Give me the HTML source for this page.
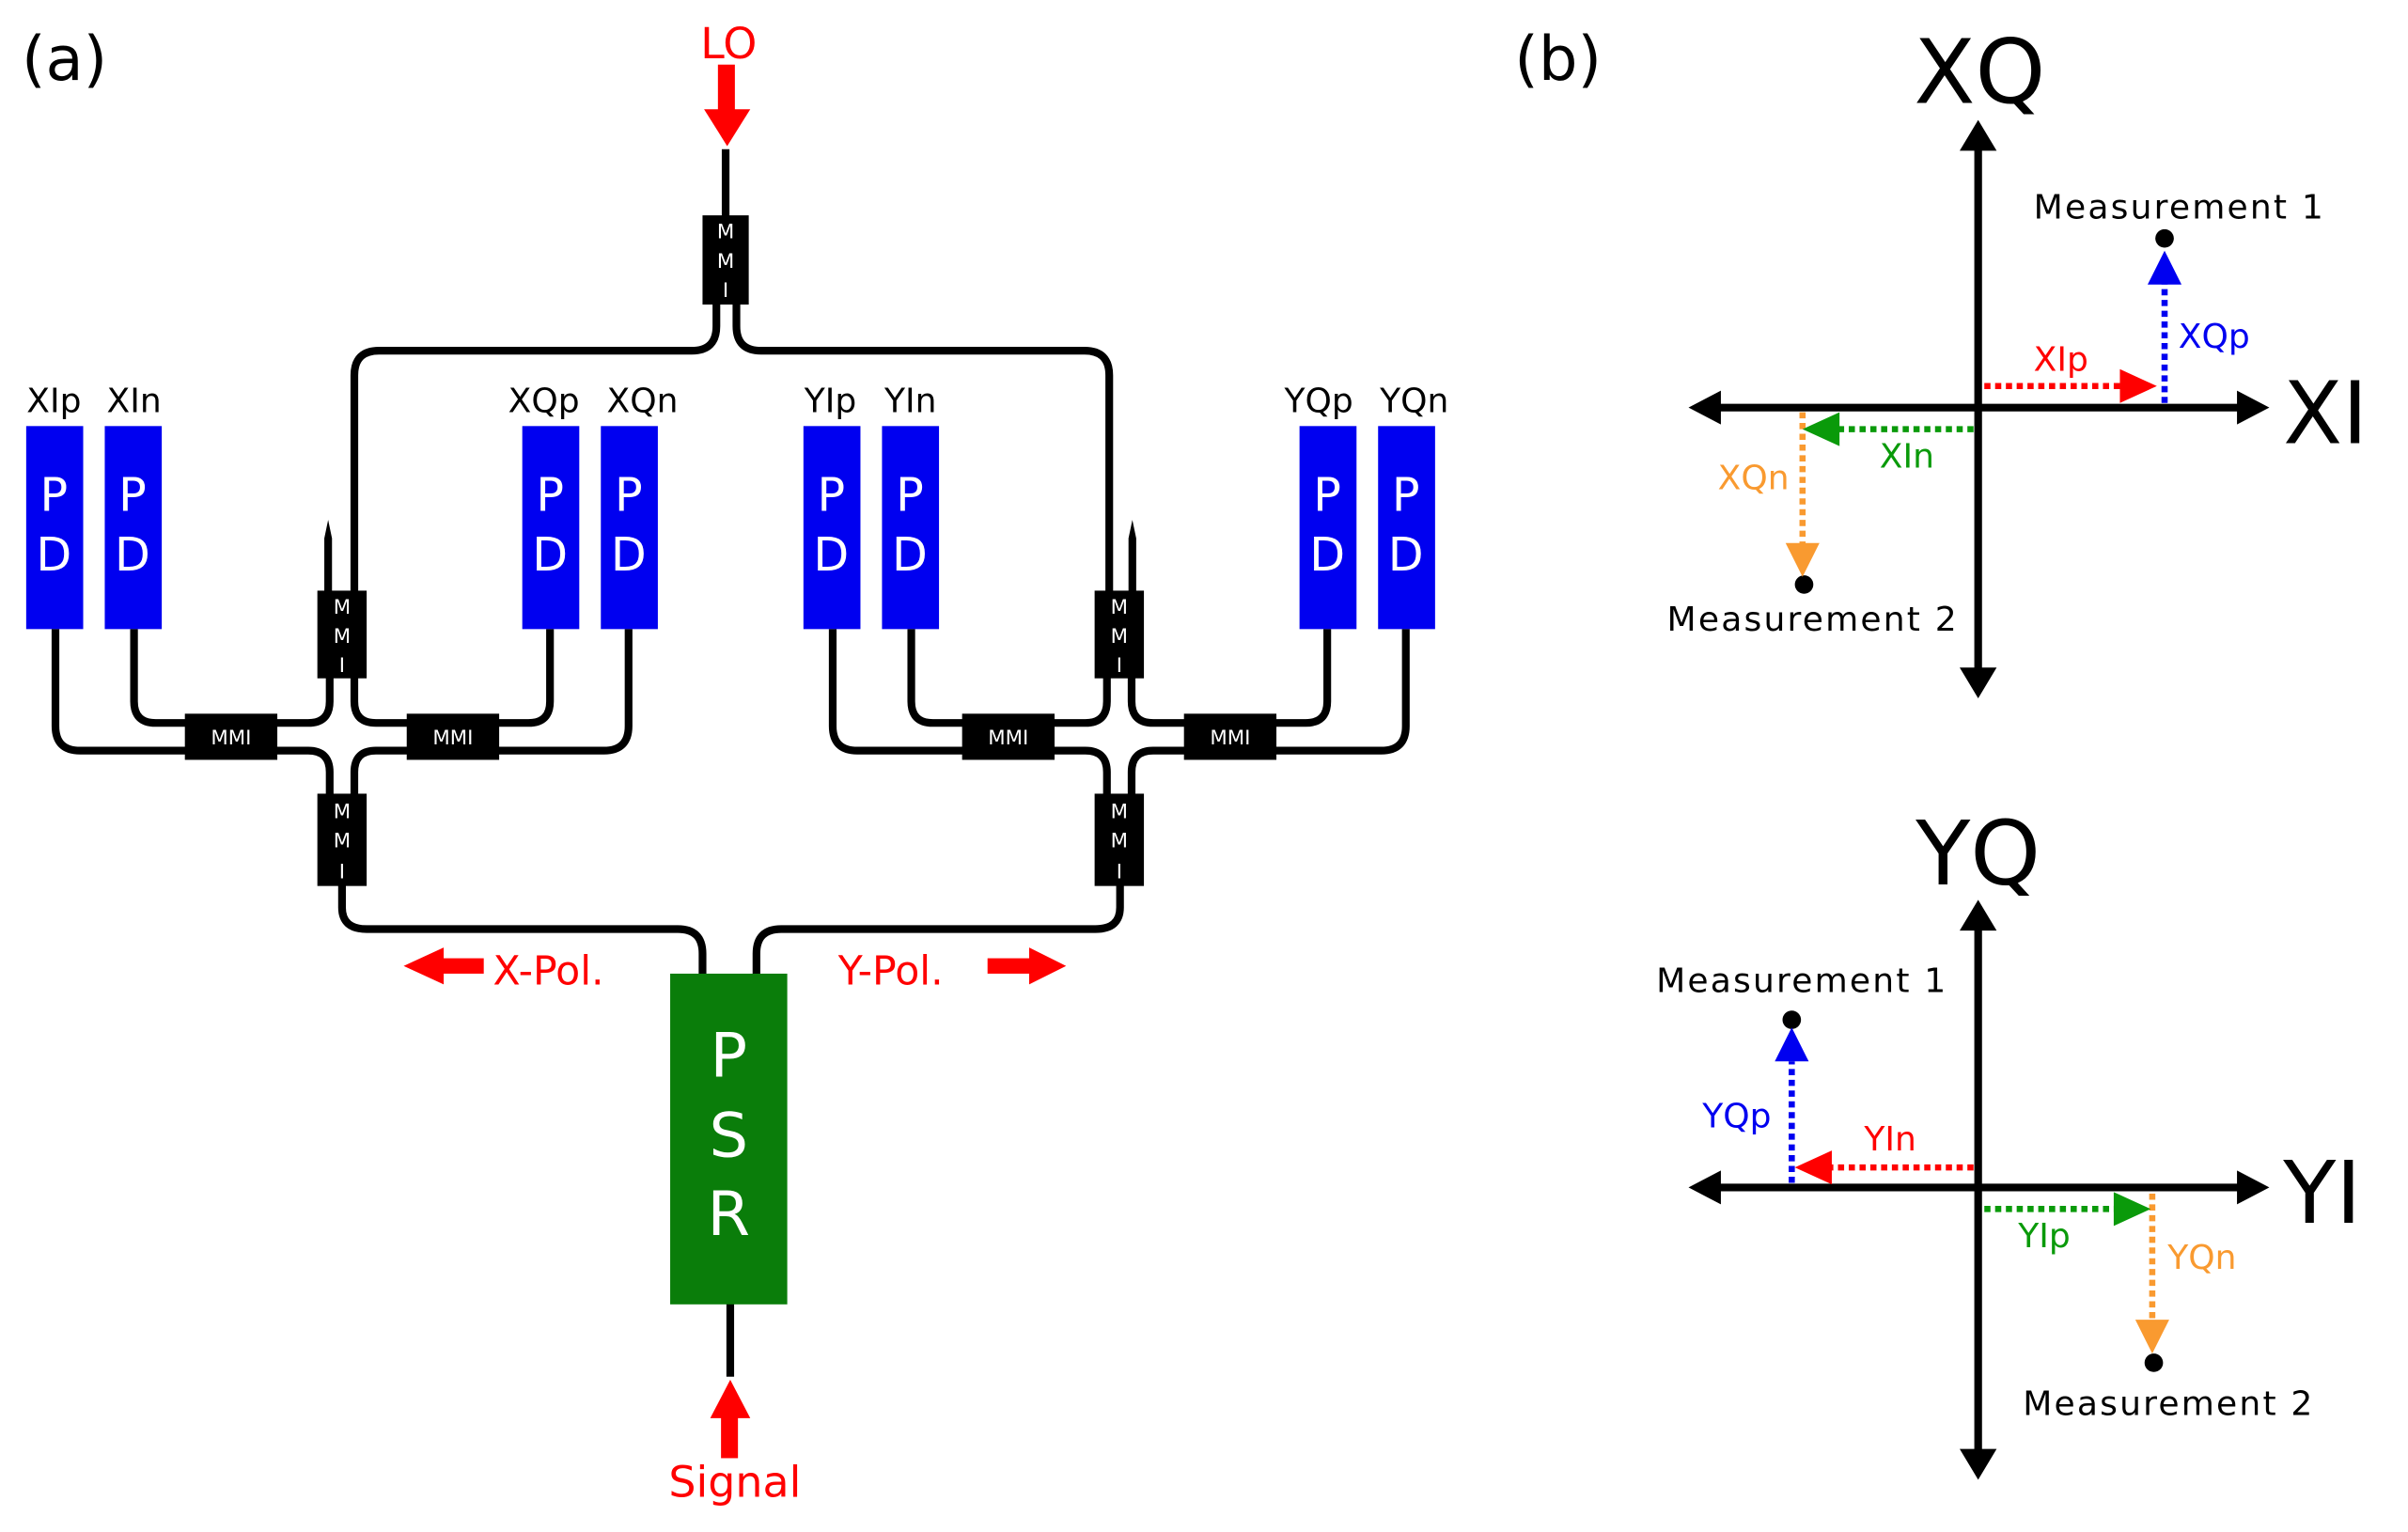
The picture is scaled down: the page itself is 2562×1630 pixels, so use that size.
<!DOCTYPE html>
<html><head><meta charset="utf-8"><style>
html,body{margin:0;padding:0;background:#fff;}
svg{display:block;}
text{font-family:"DejaVu Sans","Liberation Sans",sans-serif;}
</style></head><body>
<svg width="2562" height="1630" viewBox="0 0 1563 996" preserveAspectRatio="none" xmlns="http://www.w3.org/2000/svg">
<defs>
<g id="half">
  <rect x="17" y="277" width="37" height="132" fill="#0000f0"/>
  <rect x="68" y="277" width="37" height="132" fill="#0000f0"/>
  <rect x="339" y="277" width="37" height="132" fill="#0000f0"/>
  <rect x="390" y="277" width="37" height="132" fill="#0000f0"/>
  <g fill="#fff" font-size="30" text-anchor="middle">
    <text x="35" y="332">P</text><text x="35" y="371">D</text>
    <text x="86" y="332">P</text><text x="86" y="371">D</text>
    <text x="357" y="332">P</text><text x="357" y="371">D</text>
    <text x="408" y="332">P</text><text x="408" y="371">D</text>
  </g>
  <g fill="none" stroke="#000" stroke-width="5">
    <path d="M36 409 V472 Q36 488 52 488 H125"/>
    <path d="M87 409 V456 Q87 470 101 470 H125"/>
    <path d="M175 470 H200 Q214 470 214 456 V440"/>
    <path d="M175 488 H200 Q214 488 214 502 V518"/>
    <path d="M270 470 H244 Q230 470 230 456 V440"/>
    <path d="M270 488 H244 Q230 488 230 502 V518"/>
    <path d="M320 470 H343 Q357 470 357 456 V409"/>
    <path d="M320 488 H392 Q408 488 408 472 V409"/>
  </g>
  <rect x="206" y="384" width="32" height="57" fill="#000"/>
  <rect x="206" y="516" width="32" height="60" fill="#000"/>
  <rect x="120" y="464" width="60" height="30" fill="#000"/>
  <rect x="264" y="464" width="60" height="30" fill="#000"/>
  <g fill="#fff" font-size="13" text-anchor="middle">
    <text x="222" y="399">M</text><text x="222" y="418">M</text><text x="222" y="437">I</text>
    <text x="222" y="532">M</text><text x="222" y="551">M</text><text x="222" y="571">I</text>
    <text x="150" y="484">MMI</text><text x="294" y="484">MMI</text>
  </g>
</g>
</defs>

<text x="14" y="52" font-size="40" fill="#000">(a)</text>
<text x="983" y="52" font-size="40" fill="#000">(b)</text>

<text x="473" y="38" font-size="28" fill="#f00" text-anchor="middle">LO</text>
<rect x="466" y="42" width="11" height="31" fill="#f00"/>
<path d="M457 71 H487 L472 95 Z" fill="#f00"/>
<line x1="471" y1="97" x2="471" y2="142" stroke="#000" stroke-width="5"/>

<g fill="none" stroke="#000" stroke-width="5">
  <path d="M465 196 V212 Q465 228 449 228 H246 Q230 228 230 244 V386"/>
  <path d="M478 196 V212 Q478 228 494 228 H704 Q720 228 720 244 V386"/>
  <path d="M222 575 V590 Q222 604 238 604 H440 Q456 604 456 620 V635"/>
  <path d="M727 575 V590 Q727 604 711 604 H507 Q491 604 491 620 V635"/>
  <line x1="474" y1="846" x2="474" y2="895"/>
</g>
<rect x="456" y="140" width="30" height="58" fill="#000"/>
<g fill="#fff" font-size="13" text-anchor="middle">
  <text x="471" y="155">M</text><text x="471" y="174">M</text><text x="471" y="193">I</text>
</g>

<use href="#half"/>
<use href="#half" transform="translate(504.5,0)"/>
<path d="M210.5 386 V350 L213 338 L215.5 350 V386 Z" fill="#000"/>
<path d="M732.5 386 V350 L735 338 L737.5 350 V386 Z" fill="#000"/>

<g font-size="22" fill="#000" text-anchor="middle">
  <text x="35" y="268">XIp</text><text x="87" y="268">XIn</text>
  <text x="353" y="268">XQp</text><text x="417" y="268">XQn</text>
  <text x="539" y="268">YIp</text><text x="591" y="268">YIn</text>
  <text x="856" y="268">YQp</text><text x="918" y="268">YQn</text>
</g>

<rect x="435" y="633" width="76" height="215" fill="#0a7d0a"/>
<g fill="#fff" font-size="40" text-anchor="middle">
  <text x="473" y="700">P</text><text x="473" y="752">S</text><text x="473" y="803">R</text>
</g>

<path d="M461 922 H487 L474 897 Z" fill="#f00"/>
<rect x="468" y="920" width="11" height="28" fill="#f00"/>
<text x="477" y="973" font-size="28" fill="#f00" text-anchor="middle">Signal</text>

<path d="M262 628 L288 616 V640 Z" fill="#f00"/>
<rect x="286" y="623" width="28" height="10" fill="#f00"/>
<text x="320" y="640" font-size="26" fill="#f00">X-Pol.</text>
<text x="544" y="640" font-size="26" fill="#f00">Y-Pol.</text>
<rect x="641" y="623" width="29" height="10" fill="#f00"/>
<path d="M692 628 L668 616 V640 Z" fill="#f00"/>

<g stroke="#000" stroke-width="5">
  <line x1="1284" y1="95" x2="1284" y2="438"/>
  <line x1="1112" y1="265" x2="1457" y2="265"/>
  <line x1="1284" y1="602" x2="1284" y2="946"/>
  <line x1="1112" y1="772" x2="1457" y2="772"/>
</g>
<g fill="#000">
  <path d="M1284 78 L1272 98 H1296 Z"/><path d="M1284 454 L1272 434 H1296 Z"/>
  <path d="M1096 265 L1117 254 V276 Z"/><path d="M1473 265 L1452 254 V276 Z"/>
  <path d="M1284 585 L1272 605 H1296 Z"/><path d="M1284 962 L1272 942 H1296 Z"/>
  <path d="M1096 772 L1117 761 V783 Z"/><path d="M1473 772 L1452 761 V783 Z"/>
  <circle cx="1405" cy="155" r="6"/><circle cx="1171" cy="380" r="6"/>
  <circle cx="1163" cy="663" r="6"/><circle cx="1398" cy="886" r="6"/>
</g>
<text x="1285" y="67" font-size="58" text-anchor="middle" fill="#000">XQ</text>
<text x="1482" y="288" font-size="56" fill="#000">XI</text>
<text x="1284" y="575" font-size="58" text-anchor="middle" fill="#000">YQ</text>
<text x="1482" y="795" font-size="56" fill="#000">YI</text>

<g fill="none" stroke-width="4" stroke-dasharray="4 3">
  <line x1="1405" y1="262" x2="1405" y2="184" stroke="#0000f0"/>
  <line x1="1288" y1="251" x2="1378" y2="251" stroke="#f00"/>
  <line x1="1281" y1="279" x2="1192" y2="279" stroke="#0a9a0a"/>
  <line x1="1170" y1="268" x2="1170" y2="356" stroke="#f99a30"/>
  <line x1="1163" y1="769" x2="1163" y2="690" stroke="#0000f0"/>
  <line x1="1281" y1="759" x2="1188" y2="759" stroke="#f00"/>
  <line x1="1288" y1="786" x2="1374" y2="786" stroke="#0a9a0a"/>
  <line x1="1397" y1="776" x2="1397" y2="860" stroke="#f99a30"/>
</g>
<path d="M1405 163 L1394 185 H1416 Z" fill="#0000f0"/>
<path d="M1400 251 L1376 240 V262 Z" fill="#f00"/>
<path d="M1170 279 L1194 268 V290 Z" fill="#0a9a0a"/>
<path d="M1170 375 L1159 353 H1181 Z" fill="#f99a30"/>
<path d="M1163 668 L1152 690 H1174 Z" fill="#0000f0"/>
<path d="M1165 759 L1189 748 V770 Z" fill="#f00"/>
<path d="M1396 786 L1372 775 V797 Z" fill="#0a9a0a"/>
<path d="M1397 880 L1386 858 H1408 Z" fill="#f99a30"/>

<g font-size="22">
  <text x="1320" y="142" fill="#000" textLength="188">Measurement 1</text>
  <text x="1082" y="410" fill="#000" textLength="188">Measurement 2</text>
  <text x="1414" y="226" fill="#0000f0">XQp</text>
  <text x="1320" y="241" fill="#f00">XIp</text>
  <text x="1220" y="304" fill="#0a9a0a">XIn</text>
  <text x="1115" y="318" fill="#f99a30">XQn</text>
  <text x="1075" y="645" fill="#000" textLength="188">Measurement 1</text>
  <text x="1313" y="920" fill="#000" textLength="188">Measurement 2</text>
  <text x="1105" y="733" fill="#0000f0">YQp</text>
  <text x="1210" y="748" fill="#f00">YIn</text>
  <text x="1310" y="811" fill="#0a9a0a">YIp</text>
  <text x="1407" y="825" fill="#f99a30">YQn</text>
</g>
</svg>
</body></html>
